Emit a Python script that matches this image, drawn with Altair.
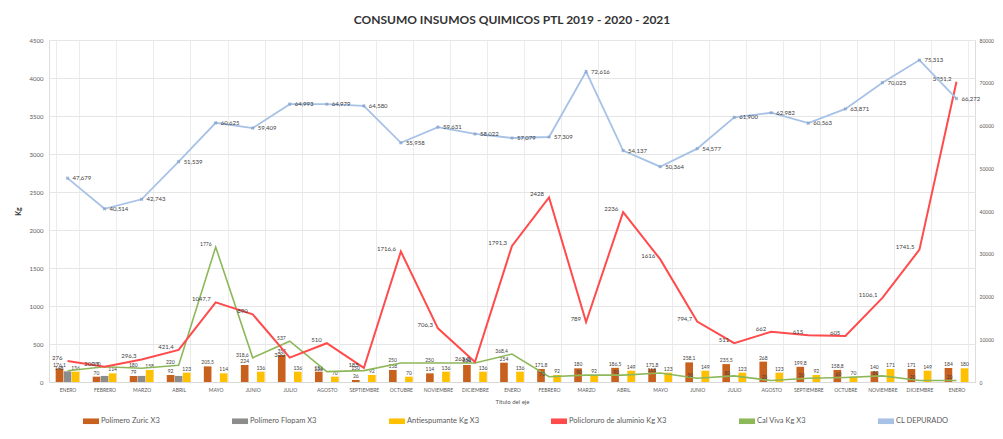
import altair as alt
import pandas as pd

# ---------------- data ----------------
MONTHS = ["ENERO", "FEBRERO", "MARZO", "ABRIL", "MAYO", "JUNIO", "JULIO", "AGOSTO",
          "SEPTIEMBRE", "OCTUBRE", "NOVIEMBRE", "DICIEMBRE",
          "ENERO", "FEBRERO", "MARZO", "ABRIL", "MAYO", "JUNIO", "JULIO", "AGOSTO",
          "SEPTIEMBRE", "OCTUBRE", "NOVIEMBRE", "DICIEMBRE", "ENERO"]
YEARS = [2019] * 12 + [2020] * 12 + [2021]

zuric = [176.1, 70, 79, 92, 205.5, 224, 355, 136, 26, 158, 114, 224,
         254, 171.8, 180, 186.5, 171.8, 258.1, 235.5, 268, 199.8, 158.8, 140, 171, 184]
flopam = [140, 80, 80, 80, 0, 0, 0, 0, 0, 0, 0, 0,
          0, 0, 0, 0, 0, 0, 0, 0, 0, 0, 0, 0, 0]
antiesp = [136, 114, 158, 123, 114, 136, 136, 70, 92, 70, 136, 136,
           136, 92, 92, 149, 123, 149, 123, 123, 92, 70, 171, 149, 180]
pac = [276.0, 200.5, 296.3, 421.4, 1047.7, 890, 320, 510, 185, 1716.6, 706.3, 263.3,
       1791.3, 2428, 789, 2236, 1616, 794.7, 511, 662, 615, 605, 1106.1, 1741.5, 3951.2]
cal = [148, 200, 180, 220, 1776, 318.6, 537, 136, 150, 250, 250, 250,
       368.4, 70, 90, 90, 118, 50, 80, 20, 50, 60, 80, 20, 20]
cl = [47679, 40514, 42743, 51539, 60625, 59409, 64993, 64979, 64580, 55958, 59631, 58022,
      57079, 57309, 72616, 54137, 50364, 54577, 61900, 62982, 60563, 63871, 70025, 75313, 66271.8]

S_ZURIC = "Polímero Zuric X3"
S_FLOPAM = "Polímero Flopam X3"
S_ANTI = "Antiespumante Kg X3"
S_PAC = "Policloruro de aluminio Kg X3"
S_CAL = "Cal Viva Kg X3"
S_CL = "CL DEPURADO"
SERIES = [S_ZURIC, S_FLOPAM, S_ANTI, S_PAC, S_CAL, S_CL]
COLORS = ["#C8601E", "#8C8C8C", "#FFC000", "#FF4B4B", "#8DB85A", "#A7C2E6"]
BAR_SERIES = [S_ZURIC, S_FLOPAM, S_ANTI]

cats = [f"{m}|{y}" for m, y in zip(MONTHS, YEARS)]


def fmt(v):
    v = float(v)
    if v.is_integer():
        return str(int(v))
    return f"{v:.1f}".replace(".", ",")


bar_rows = []
for c, a, b, d in zip(cats, zuric, flopam, antiesp):
    for s, v in ((S_ZURIC, a), (S_FLOPAM, b), (S_ANTI, d)):
        bar_rows.append({"cat": c, "serie": s, "value": v,
                         "label": fmt(v) if (v > 0 and s != S_FLOPAM) else ""})
bars_df = pd.DataFrame(bar_rows)
pac_df = pd.DataFrame({"cat": cats, "value": pac, "label": [fmt(v) for v in pac]})
cal_df = pd.DataFrame({"cat": cats, "value": cal, "label": [fmt(v) for v in cal]})
cl_df = pd.DataFrame({"cat": cats, "value": cl})

FONT = "Lato"
TXT = "#595959"

x_enc = alt.X(
    "cat:N", sort=cats,
    scale=alt.Scale(paddingInner=0.36, paddingOuter=0.18),
    axis=alt.Axis(title="Título del eje",
                  labelExpr="datum.value ? split(datum.value, '|')[0] : ''",
                  labelAngle=0, tickBand="extent", grid=True, gridColor="#ececec",
                  ticks=False, domainColor="#d9d9d9", labelFontSize=5, labelColor=TXT,
                  titleFontSize=6, titleColor=TXT, titleFontWeight="normal",
                  labelPadding=5, titlePadding=6, labelFont=FONT, titleFont=FONT),
)

y_left = alt.Y(
    "value:Q",
    scale=alt.Scale(domain=[0, 4500], nice=False),
    axis=alt.Axis(title="Kg", values=list(range(0, 4501, 500)), format="d", grid=True,
                  gridColor="#e6e6e6", domain=False, ticks=False, labelFontSize=6,
                  labelColor=TXT, labelPadding=6, titleFontSize=7, titleFontWeight="bold",
                  titleColor="#333333", titlePadding=8, labelFont=FONT, titleFont=FONT),
)

y_right = alt.Y(
    "value:Q",
    scale=alt.Scale(domain=[0, 80000], nice=False),
    axis=alt.Axis(orient="right", title=None, values=list(range(0, 80001, 10000)),
                  format="d", grid=False, domain=False, ticks=False, labelFontSize=5,
                  labelColor=TXT, labelPadding=4, labelFont=FONT),
)

xoff = alt.XOffset("serie:N", sort=BAR_SERIES, scale=alt.Scale(domain=BAR_SERIES, paddingInner=0.05))

bars = alt.Chart(bars_df).mark_bar().encode(
    x=x_enc, y=y_left, xOffset=xoff,
    color=alt.Color("serie:N", scale=alt.Scale(domain=SERIES, range=COLORS),
                    legend=alt.Legend(title=None, orient="none", legendX=34, legendY=373,
                                      direction="horizontal", columns=6, columnPadding=72,
                                      symbolType="M-1,-0.35H1V0.35H-1Z", symbolSize=256,
                                      symbolStrokeWidth=0, labelFontSize=7.5, labelColor=TXT,
                                      labelOffset=2, labelLimit=300, labelFont=FONT)),
)
bar_labels = alt.Chart(bars_df).mark_text(fontSize=5, color="#404040", dy=-4, font=FONT).encode(
    x=x_enc, y=y_left, xOffset=xoff, text="label:N",
)

red = alt.Chart(pac_df).mark_line(color=COLORS[3], strokeWidth=2).encode(x=x_enc, y=y_left)
red_labels = alt.Chart(pac_df).mark_text(fontSize=6, color="#404040", align="right", dx=-5, dy=-3,
                                         font=FONT).encode(x=x_enc, y=y_left, text="label:N")
green = alt.Chart(cal_df).mark_line(color=COLORS[4], strokeWidth=1.6).encode(x=x_enc, y=y_left)
green_labels = alt.Chart(cal_df).mark_text(fontSize=5, color="#404040", align="right", dx=-4, dy=-3,
                                           font=FONT).encode(x=x_enc, y=y_left, text="label:N")

blue = alt.Chart(cl_df).mark_line(color=COLORS[5], strokeWidth=1.8).encode(x=x_enc, y=y_right)
blue_pts = alt.Chart(cl_df).mark_point(shape="cross", angle=45, size=14, filled=True,
                                       color="#7F9CC8").encode(x=x_enc, y=y_right)
blue_labels = alt.Chart(cl_df).mark_text(fontSize=6, color="#404040", align="left", dx=5,
                                         font=FONT).encode(x=x_enc, y=y_right,
                                                           text=alt.Text("value:Q", format=",.0f"))

left = alt.layer(bars, bar_labels, green, green_labels, red, red_labels)
right = alt.layer(blue, blue_pts, blue_labels)

chart = alt.layer(left, right).resolve_scale(y="independent").properties(
    width=926, height=342,
    autosize=alt.AutoSizeParams(type="none"),
    padding={"left": 41, "top": 32, "right": 20, "bottom": 49},
    title=alt.TitleParams("CONSUMO INSUMOS QUIMICOS PTL 2019 - 2020 - 2021", fontSize=12,
                          font=FONT, fontWeight="bold", color="#333333", anchor="middle",
                          offset=10),
).configure_view(stroke=None).configure(background="white", font=FONT)

chart.save("out.html", embed_options={"renderer": "svg", "actions": False})
